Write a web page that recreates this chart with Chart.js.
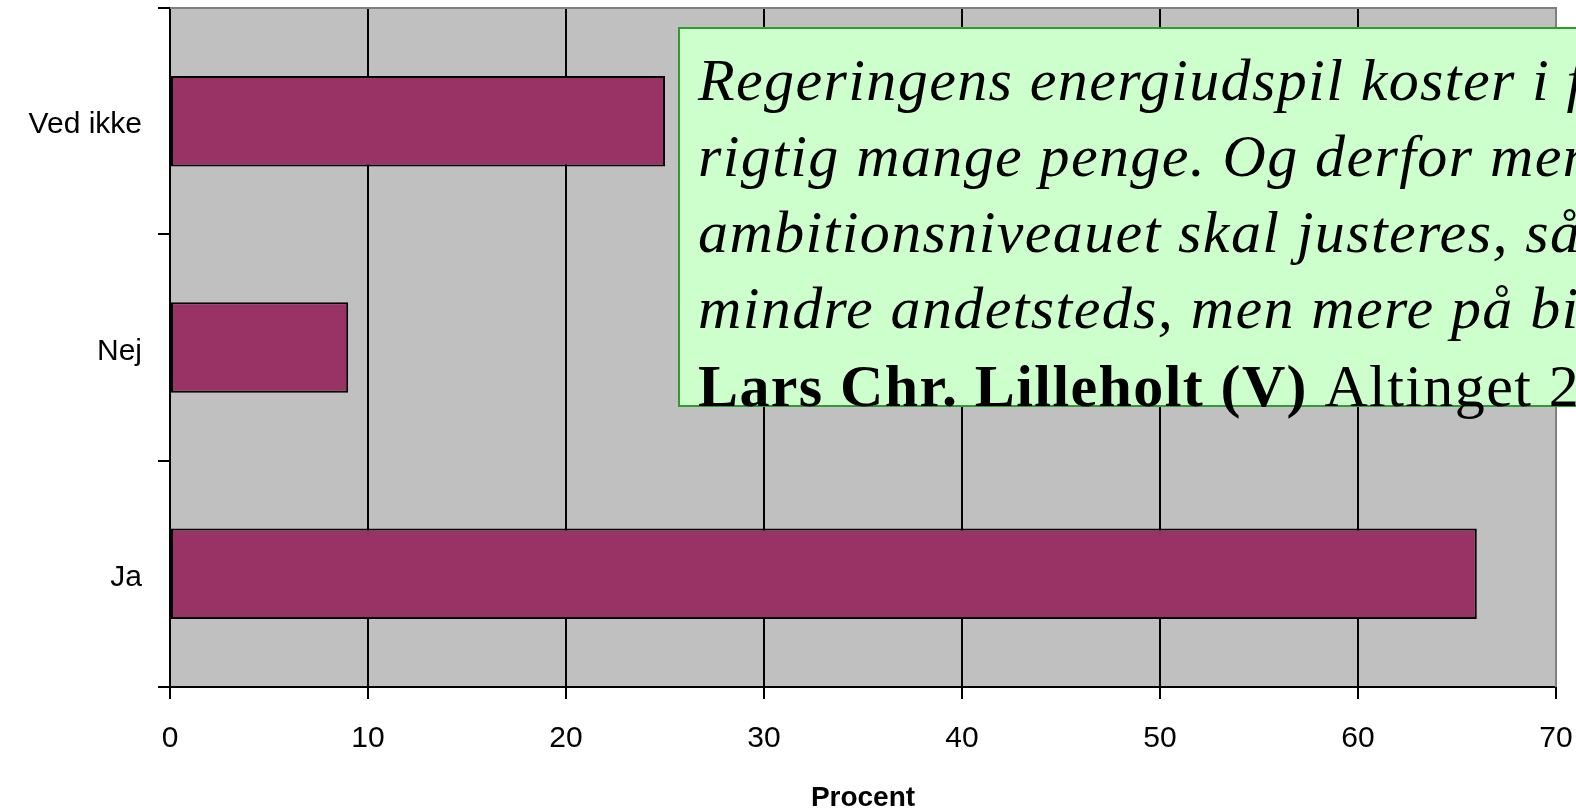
<!DOCTYPE html>
<html>
<head>
<meta charset="utf-8">
<script src="https://cdn.jsdelivr.net/npm/chart.js@4"></script>
<style>
    html, body { margin: 0; padding: 0; background: #ffffff; }
    #wrap { width: 1576px; height: 809px; }
</style>
</head>
<body>
<div id="wrap"><canvas id="procentChart" width="1576" height="809"></canvas></div>
<script>
// data
var answerLabels = ['Ved ikke', 'Nej', 'Ja'];
var answerValues = [25, 9, 66];
var xTickMax = 70;
var xTickStep = 10;
var axisTitle = 'Procent';

// quote box text
var quoteLines = [
    'Regeringens energiudspil koster i forhold til',
    'rigtig mange penge. Og derfor mener vi',
    'ambitionsniveauet skal justeres, så vi',
    'mindre andetsteds, men mere på biomasse'
];
var quoteAuthor = 'Lars Chr. Lilleholt (V)';
var quoteSource = ' Altinget 2012';

//Grey plot background and grey frame on top / right.
var plotBackground = {
    id: 'plotBackground',
    beforeDraw: function (chart) {
        var ctx = chart.ctx;
        var a = chart.chartArea;
        ctx.save();
        ctx.fillStyle = '#c0c0c0';
        ctx.fillRect(a.left, a.top, a.right - a.left, a.bottom - a.top);
        ctx.restore();
    },
    afterDatasetsDraw: function (chart) {
        var ctx = chart.ctx;
        var a = chart.chartArea;
        ctx.save();
        ctx.strokeStyle = '#808080';
        ctx.lineWidth = 2;
        ctx.beginPath();
        ctx.moveTo(a.left, a.top);
        ctx.lineTo(a.right, a.top);
        ctx.lineTo(a.right, a.bottom);
        ctx.stroke();
        ctx.restore();
    }
};

//Green quote box drawn over the chart.
var quoteBox = {
    id: 'quoteBox',
    afterDraw: function (chart) {
        var ctx = chart.ctx;
        ctx.save();
        ctx.fillStyle = '#ccffcc';
        ctx.fillRect(679, 28, 1000, 378);
        ctx.strokeStyle = '#339933';
        ctx.lineWidth = 2;
        ctx.strokeRect(679, 28, 1000, 378);

        ctx.fillStyle = '#000000';
        ctx.textBaseline = 'alphabetic';
        ctx.textAlign = 'left';
        ctx.letterSpacing = '1.4px';
        ctx.font = 'italic 60px "Liberation Serif", "DejaVu Serif", serif';
        var baseY = 100;
        var lineGap = 76;
        for (let i = 0; i < quoteLines.length; i++) {
            ctx.fillText(quoteLines[i], 698, baseY + i * lineGap);
        }

        var y = 406;
        ctx.font = 'bold 60px "Liberation Serif", "DejaVu Serif", serif';
        ctx.fillText(quoteAuthor, 698, y);
        var w = ctx.measureText(quoteAuthor).width;
        ctx.font = '60px "Liberation Serif", "DejaVu Serif", serif';
        ctx.fillText(quoteSource, 698 + w, y);
        ctx.restore();
    }
};

var procentChartControl = document.getElementById('procentChart');

var procentChart = new Chart(procentChartControl, {
    type: 'bar',
    data: {
        labels: answerLabels,
        datasets: [{
            data: answerValues,
            backgroundColor: '#993366',
            borderColor: '#000000',
            borderWidth: 2,
            borderSkipped: false,
            barPercentage: 0.4,
            categoryPercentage: 1.0
        }]
    },
    options: {
        indexAxis: 'y',
        responsive: false,
        animation: false,
        layout: {
            padding: { top: 8, right: 20, bottom: 0, left: 0 }
        },
        scales: {
            x: {
                min: 0,
                max: xTickMax,
                ticks: {
                    stepSize: xTickStep,
                    color: '#000000',
                    padding: 22,
                    font: { family: '"Liberation Sans", Arial, sans-serif', size: 30 }
                },
                grid: {
                    color: '#000000',
                    lineWidth: 2,
                    drawOnChartArea: true,
                    tickLength: 12
                },
                border: { color: '#000000', width: 2 },
                title: {
                    display: true,
                    text: axisTitle,
                    color: '#000000',
                    padding: { top: 25, bottom: -6 },
                    font: { family: '"Liberation Sans", Arial, sans-serif', size: 28, weight: 'bold' }
                },
                afterFit: function (scale) {
                    scale.height = 122;
                    scale.paddingLeft = 0;
                    scale.paddingRight = 0;
                }
            },
            y: {
                ticks: {
                    color: '#000000',
                    padding: 16,
                    labelOffset: 4,
                    font: { family: '"Liberation Sans", Arial, sans-serif', size: 30 }
                },
                grid: {
                    color: '#000000',
                    lineWidth: 2,
                    drawOnChartArea: false,
                    tickLength: 12,
                    offset: true
                },
                border: { color: '#000000', width: 2 },
                afterFit: function (scale) {
                    scale.width = 170;
                    scale.paddingTop = 0;
                    scale.paddingBottom = 0;
                }
            }
        },
        plugins: {
            legend: { display: false },
            tooltip: { enabled: false }
        }
    },
    plugins: [plotBackground, quoteBox]
});
</script>
</body>
</html>
